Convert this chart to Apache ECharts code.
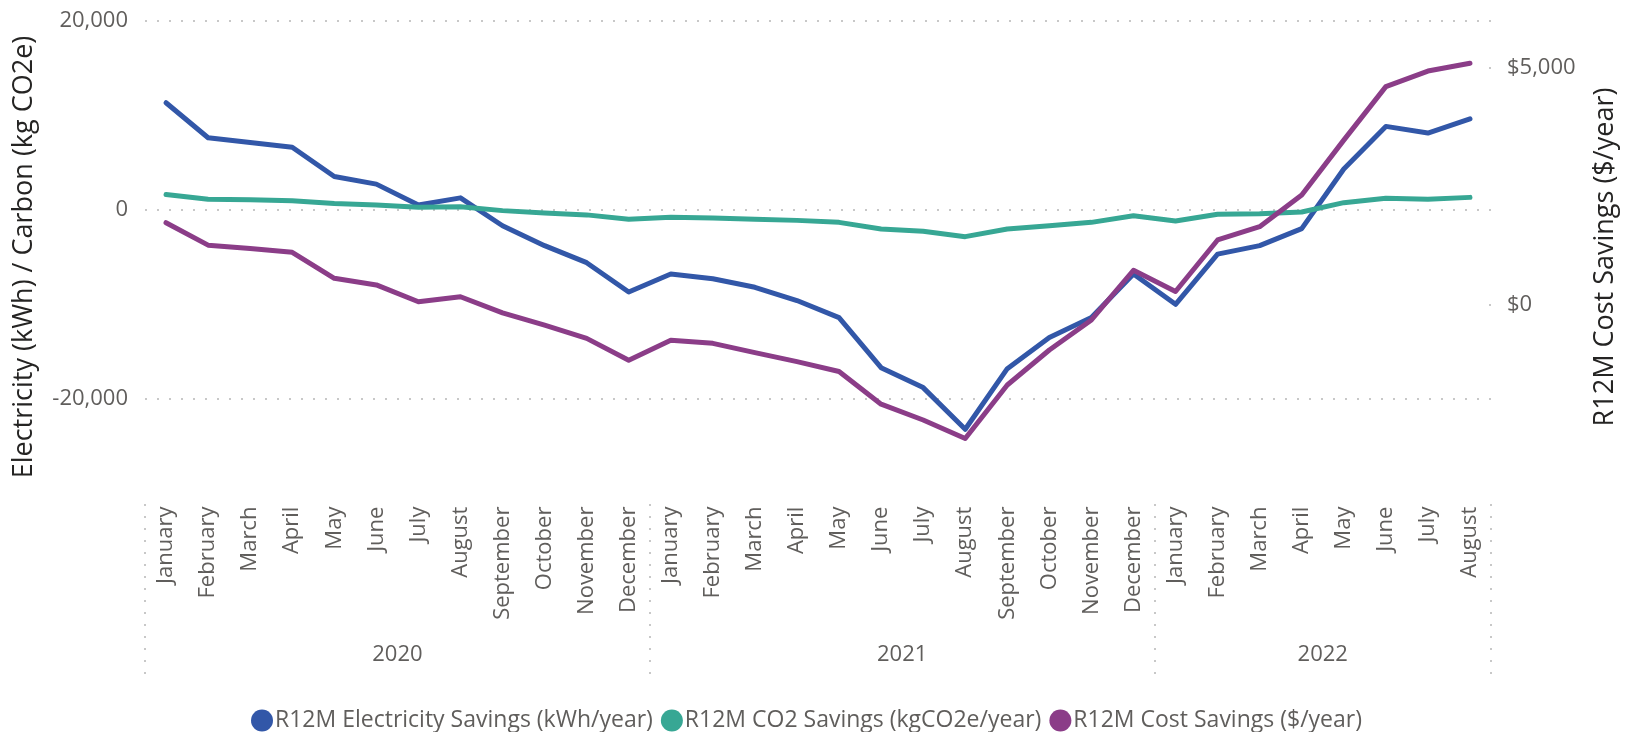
<!DOCTYPE html>
<html>
<head>
<meta charset="utf-8">
<script src="https://cdn.jsdelivr.net/npm/echarts@6/dist/echarts.min.js"></script>
<style>
  html, body { margin: 0; padding: 0; background: #ffffff; }
  #chart { width: 1638px; height: 732px; }
</style>
</head>
<body>
<div id="chart"></div>
<script>
// Calendar structure of the x axis
const monthNames = ['January', 'February', 'March', 'April', 'May', 'June',
  'July', 'August', 'September', 'October', 'November', 'December'];
const years = ['2020', '2021', '2022'];
const monthsPerYear = [12, 12, 8];

// Rolling 12-month savings, one value per month (Jan 2020 .. Aug 2022)
const electricitySavings = [
  11300, 7600, 7100, 6600, 3500, 2700, 500, 1250, -1700, -3800, -5600, -8700,
  -6800, -7300, -8200, -9600, -11400, -16700, -18800, -23200, -16800, -13500, -11400, -6800,
  -10000, -4700, -3800, -2000, 4300, 8800, 8100, 9600
];
const co2Savings = [
  1600, 1100, 1050, 950, 650, 500, 250, 300, -100, -350, -550, -1000,
  -800, -880, -1000, -1130, -1340, -2040, -2290, -2850, -2040, -1690, -1340, -650,
  -1200, -490, -420, -250, 740, 1200, 1090, 1300
];
const costSavings = [
  1725, 1250, 1180, 1100, 550, 410, 55, 160, -180, -440, -720, -1180,
  -760, -825, -1020, -1210, -1420, -2110, -2445, -2835, -1705, -965, -330, 720,
  270, 1360, 1640, 2310, 3470, 4600, 4930, 5095
];

// Axis scales and tick labels
const leftRange = [-30000, 20000];
const leftTicks = [-20000, 0, 20000];
const rightRange = [-4000, 6000];
const rightTicks = [0, 5000];

const seriesNames = [
  'R12M Electricity Savings (kWh/year)',
  'R12M CO2 Savings (kgCO2e/year)',
  'R12M Cost Savings ($/year)'
];
const seriesColors = ['#3257A8', '#37A794', '#8B3D88'];

// Build month categories and the year groups that sit beneath them
const categories = [];
const yearCenters = [];
const yearBounds = [-0.5];
let idx = 0;
years.forEach((y, i) => {
  const start = idx;
  for (let m = 0; m < monthsPerYear[i]; m++) categories.push(monthNames[m]);
  idx += monthsPerYear[i];
  yearCenters.push((start + idx - 1) / 2);
  yearBounds.push(idx - 0.5);
});

const fmt = v => {
  const s = Math.abs(v).toString().replace(/\B(?=(\d{3})+(?!\d))/g, ',');
  return (v < 0 ? '-' : '') + s;
};

const FONT = 'Open Sans';
const LABEL = '#605E5C';
const TITLE = '#252423';
const GRID = '#C8C8C8';
const DOTS = { color: GRID, width: 2, type: [2, 10] };

const chart = echarts.init(document.getElementById('chart'), null, { renderer: 'canvas' });

chart.setOption({
  animation: false,
  textStyle: { fontFamily: FONT },
  grid: [
    // plot area
    { left: 145, top: 20.4, width: 1346, height: 473.2, containLabel: false },
    // year band with dotted separators between years
    { left: 145, top: 504, width: 1346, height: 170, containLabel: false }
  ],
  legend: {
    data: seriesNames,
    icon: 'circle',
    itemWidth: 22,
    itemHeight: 22,
    itemGap: 8,
    left: 246,
    top: 704,
    textStyle: { fontSize: 23, color: LABEL, fontFamily: FONT, padding: [0, 0, 0, -3] }
  },
  xAxis: [
    {
      gridIndex: 0,
      type: 'category',
      data: categories,
      boundaryGap: true,
      axisLine: { show: false },
      axisTick: { show: false },
      splitLine: { show: false },
      axisLabel: {
        rotate: 90,
        interval: 0,
        margin: 13,
        fontSize: 22,
        color: LABEL,
        fontFamily: FONT
      }
    },
    {
      gridIndex: 1,
      type: 'value',
      position: 'top',
      min: -0.5,
      max: categories.length - 0.5,
      axisLine: { show: false },
      axisTick: { show: false, customValues: yearBounds },
      splitLine: { show: true, lineStyle: DOTS },
      axisLabel: {
        customValues: yearCenters,
        inside: true,
        margin: 140,
        fontSize: 22,
        color: LABEL,
        fontFamily: FONT,
        formatter: v => {
          const k = yearCenters.findIndex(c => Math.abs(c - v) < 1e-6);
          return k >= 0 ? years[k] : '';
        }
      }
    }
  ],
  yAxis: [
    {
      gridIndex: 0,
      type: 'value',
      position: 'left',
      min: leftRange[0],
      max: leftRange[1],
      axisLine: { show: false },
      axisTick: { show: false, customValues: leftTicks },
      axisLabel: {
        customValues: leftTicks,
        margin: 17,
        fontSize: 22,
        color: LABEL,
        fontFamily: FONT,
        formatter: fmt
      },
      splitLine: { show: true, lineStyle: DOTS },
      name: 'Electricity (kWh) / Carbon (kg CO2e)',
      nameLocation: 'middle',
      nameGap: 107,
      nameTextStyle: { fontSize: 27, color: TITLE, fontFamily: FONT }
    },
    {
      gridIndex: 0,
      type: 'value',
      position: 'right',
      min: rightRange[0],
      max: rightRange[1],
      axisLine: { show: false },
      axisTick: {
        show: true,
        inside: true,
        length: 2,
        customValues: rightTicks,
        lineStyle: { color: GRID, width: 2 }
      },
      axisLabel: {
        customValues: rightTicks,
        margin: 16,
        fontSize: 22,
        color: LABEL,
        fontFamily: FONT,
        formatter: v => '$' + fmt(v)
      },
      splitLine: { show: false },
      name: 'R12M Cost Savings ($/year)',
      nameLocation: 'middle',
      nameGap: 101,
      nameTextStyle: { fontSize: 27, color: TITLE, fontFamily: FONT }
    },
    {
      gridIndex: 1,
      type: 'value',
      show: false
    }
  ],
  series: [electricitySavings, co2Savings, costSavings].map((data, i) => ({
    name: seriesNames[i],
    type: 'line',
    xAxisIndex: 0,
    yAxisIndex: i === 2 ? 1 : 0,
    data: data,
    symbol: 'none',
    showSymbol: false,
    itemStyle: { color: seriesColors[i] },
    lineStyle: { color: seriesColors[i], width: 5, cap: 'round', join: 'round' },
    z: 2 + i
  }))
});
</script>
</body>
</html>
